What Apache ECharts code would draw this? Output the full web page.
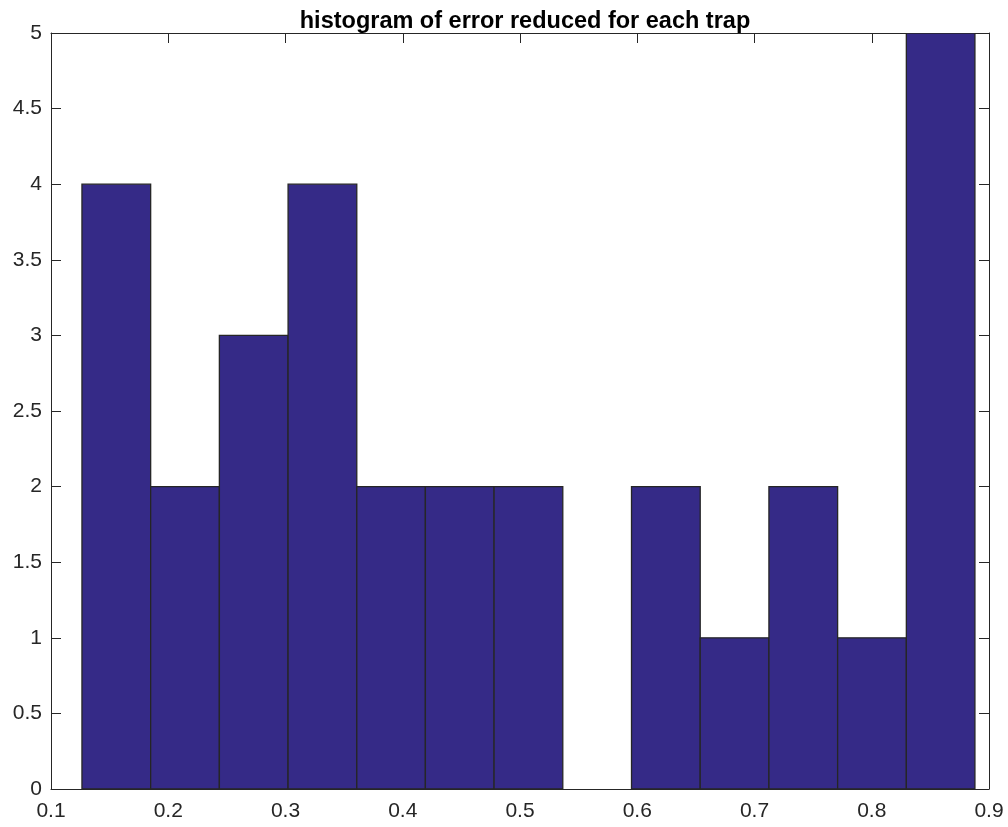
<!DOCTYPE html>
<html>
<head>
<meta charset="utf-8">
<script src="https://cdn.jsdelivr.net/npm/echarts@6/dist/echarts.min.js"></script>
<style>
  html, body { margin: 0; padding: 0; background: #fff; }
  #chart { width: 1008px; height: 827px; }
</style>
</head>
<body>
<div id="chart"></div>
<script>
// Histogram bin edges (error reduction) and counts per bin
const binEdges = [0.1264, 0.1850, 0.2436, 0.3022, 0.3608, 0.4193, 0.4779,
                  0.5365, 0.5951, 0.6537, 0.7123, 0.7709, 0.8295, 0.8880];
const binCounts = [4, 2, 3, 4, 2, 2, 2, 0, 2, 1, 2, 1, 5];
const xTicks = [0.1, 0.2, 0.3, 0.4, 0.5, 0.6, 0.7, 0.8, 0.9];
const yTicks = [0, 0.5, 1, 1.5, 2, 2.5, 3, 3.5, 4, 4.5, 5];

const bins = binCounts.map((c, i) => [binEdges[i], binEdges[i + 1], c]);

const axisColor = '#262626';
const font = 'Liberation Sans, Arial, Helvetica, sans-serif';

const chart = echarts.init(document.getElementById('chart'), null, { renderer: 'canvas' });

const baseX = {
  type: 'value', min: 0.1, max: 0.9, interval: 0.1,
  axisLine: { show: true, onZero: false, lineStyle: { color: axisColor, width: 1 } },
  axisTick: { show: true, inside: true, length: 10, lineStyle: { color: axisColor } },
  splitLine: { show: false }
};
const baseY = {
  type: 'value', min: 0, max: 5, interval: 0.5,
  axisLine: { show: true, onZero: false, lineStyle: { color: axisColor, width: 1 } },
  axisTick: { show: true, inside: true, length: 10, lineStyle: { color: axisColor } },
  splitLine: { show: false }
};

chart.setOption({
  animation: false,
  backgroundColor: '#ffffff',
  title: {
    text: 'histogram of error reduced for each trap',
    left: 520, top: 5, textAlign: 'center',
    textStyle: { fontFamily: font, fontWeight: 'bold', fontSize: 23.5, color: '#000' }
  },
  grid: { left: 51, right: 19, top: 33, bottom: 38 },
  xAxis: [
    Object.assign({}, baseX, {
      position: 'bottom',
      axisLabel: {
        show: true, margin: 12, color: axisColor, fontFamily: font, fontSize: 21,
        formatter: v => xTicks.includes(+v.toFixed(1)) ? String(+v.toFixed(1)) : ''
      }
    }),
    Object.assign({}, baseX, { position: 'top', axisLabel: { show: false } })
  ],
  yAxis: [
    Object.assign({}, baseY, {
      position: 'left',
      axisLabel: {
        show: true, margin: 9, color: axisColor, fontFamily: font, fontSize: 21,
        formatter: v => yTicks.includes(+v.toFixed(1)) ? String(+v.toFixed(1)) : ''
      }
    }),
    Object.assign({}, baseY, { position: 'right', axisLabel: { show: false } })
  ],
  series: [{
    type: 'custom',
    xAxisIndex: 0, yAxisIndex: 0,
    data: bins,
    clip: true,
    renderItem: (params, api) => {
      if (api.value(2) <= 0) return null;
      const p0 = api.coord([api.value(0), 0]);
      const p1 = api.coord([api.value(1), api.value(2)]);
      return {
        type: 'rect',
        shape: { x: p0[0], y: p1[1], width: p1[0] - p0[0], height: p0[1] - p1[1] },
        style: { fill: '#352a87', stroke: '#262626', lineWidth: 1.3 }
      };
    }
  }]
});
</script>
</body>
</html>
